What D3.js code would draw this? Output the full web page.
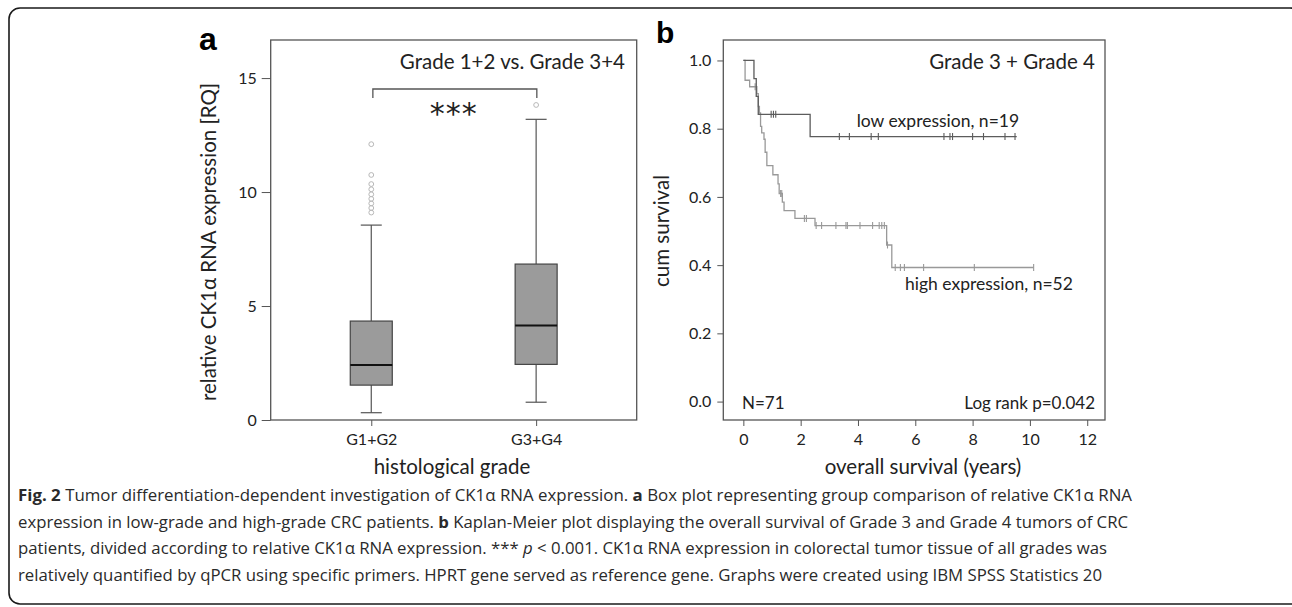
<!DOCTYPE html>
<html>
<head>
<meta charset="utf-8">
<script src="https://d3js.org/d3.v7.min.js"></script>
<style>
  body { margin: 0; background: #fff; }
  svg { display: block; }
</style>
</head>
<body>
<svg width="1292" height="607"></svg>
<script>
// ---- panel a: box plot data ----
const groups = ["G1+G2", "G3+G4"];
const whiskerLow = [0.32, 0.78];
const q1 = [1.53, 2.44];
const median = [2.41, 4.15];
const q3 = [4.34, 6.84];
const whiskerHigh = [8.55, 13.19];
const outliersG12 = [12.1, 10.75, 10.35, 10.12, 9.9, 9.7, 9.5, 9.3, 9.1];
const outliersG34 = [13.82];
const yTicksA = [0, 5, 10, 15];

// ---- panel b: Kaplan-Meier steps ----
const lowTimes = [0, 0.37, 0.45, 0.52, 2.33];
const lowSurv = [1.0, 0.947, 0.895, 0.842, 0.777];
const lowEnd = 9.54;
const lowCensored = [0.97, 1.05, 1.13, 3.35, 3.7, 4.46, 4.71, 7.0, 7.21, 7.3, 8.0, 8.38, 9.13, 9.48];

const highTimes = [0, 0.06, 0.22, 0.47, 0.52, 0.56, 0.6, 0.64, 0.72, 0.76, 0.82, 1.03, 1.21, 1.25, 1.36, 1.42, 1.8, 2.5, 5.0, 5.18];
const highSurv = [1.0, 0.942, 0.923, 0.903, 0.865, 0.846, 0.807, 0.788, 0.769, 0.731, 0.692, 0.665, 0.638, 0.61, 0.585, 0.56, 0.537, 0.516, 0.459, 0.393];
const highEnd = 10.13;
const highCensored = [0.41, 1.3, 1.34, 2.13, 2.2, 2.54, 2.73, 3.23, 3.58, 3.63, 4.07, 4.51, 4.74, 4.83, 4.92, 5.03, 5.3, 5.48, 5.62, 6.29, 8.06, 10.13];

const xTicksB = [0, 2, 4, 6, 8, 10, 12];
const yTicksB = [0, 0.2, 0.4, 0.6, 0.8, 1.0];

const svg = d3.select("svg")
    .attr("font-family", "Lato, 'Open Sans', sans-serif");

// outer rounded frame
svg.append("rect")
    .attr("x", 9).attr("y", 8)
    .attr("width", 1292).attr("height", 596)
    .attr("rx", 11)
    .attr("fill", "none")
    .attr("stroke", "#1a1a1a")
    .attr("stroke-width", 1.6);

// ================= panel a =================
const fa = { left: 270.7, right: 636.7, top: 40, bottom: 420 };
const yA = d3.scaleLinear().domain([0, 16.67]).range([fa.bottom, fa.top]);
const xA = d3.scalePoint().domain(groups).range([fa.left, fa.right]).padding(0.61);

const ga = svg.append("g");

ga.append("g")
    .attr("transform", `translate(${fa.left},0)`)
    .call(d3.axisLeft(yA).tickValues(yTicksA).tickSize(9).tickPadding(5))
    .call(g => g.select(".domain").remove())
    .call(g => g.selectAll("line").attr("stroke", "#555"))
    .call(g => g.selectAll("text").attr("font-size", 16).attr("font-family", "Lato").attr("fill", "#222"));

ga.append("g")
    .attr("transform", `translate(0,${fa.bottom})`)
    .call(d3.axisBottom(xA).tickSize(6).tickPadding(8))
    .call(g => g.select(".domain").remove())
    .call(g => g.selectAll("line").attr("stroke", "#555"))
    .call(g => g.selectAll("text").attr("font-size", 16).attr("font-family", "Lato").attr("fill", "#222"));

const boxW = 42, capW = 21;
groups.forEach((grp, i) => {
    const cx = xA(grp);
    // whiskers
    ga.append("line")
        .attr("x1", cx).attr("x2", cx)
        .attr("y1", yA(whiskerLow[i])).attr("y2", yA(q1[i]))
        .attr("stroke", "#555").attr("stroke-width", 1.2);
    ga.append("line")
        .attr("x1", cx).attr("x2", cx)
        .attr("y1", yA(q3[i])).attr("y2", yA(whiskerHigh[i]))
        .attr("stroke", "#555").attr("stroke-width", 1.2);
    [whiskerLow[i], whiskerHigh[i]].forEach(v => {
        ga.append("line")
            .attr("x1", cx - capW / 2).attr("x2", cx + capW / 2)
            .attr("y1", yA(v)).attr("y2", yA(v))
            .attr("stroke", "#555").attr("stroke-width", 1.2);
    });
    ga.append("rect")
        .attr("x", cx - boxW / 2).attr("width", boxW)
        .attr("y", yA(q3[i])).attr("height", yA(q1[i]) - yA(q3[i]))
        .attr("fill", "#9b9b9b")
        .attr("stroke", "#444").attr("stroke-width", 1.2);
    ga.append("line")
        .attr("x1", cx - boxW / 2).attr("x2", cx + boxW / 2)
        .attr("y1", yA(median[i])).attr("y2", yA(median[i]))
        .attr("stroke", "#111").attr("stroke-width", 2);
});

[[groups[0], outliersG12], [groups[1], outliersG34]].forEach(([grp, vals]) => {
    ga.selectAll(null).data(vals).enter().append("circle")
        .attr("cx", xA(grp)).attr("cy", d => yA(d))
        .attr("r", 2.4)
        .attr("fill", "none")
        .attr("stroke", "#b8b8b8").attr("stroke-width", 1);
});

// significance bracket
const brY = 89;
ga.append("path")
    .attr("d", `M${xA(groups[0]) + 1.6},${brY + 9}V${brY}H${xA(groups[1]) + 0.7}V${brY + 9}`)
    .attr("fill", "none").attr("stroke", "#555").attr("stroke-width", 1.3);
ga.append("text")
    .attr("x", (xA(groups[0]) + xA(groups[1])) / 2).attr("y", 124)
    .attr("text-anchor", "middle").attr("font-size", 30)
    .attr("font-family", "DejaVu Sans").attr("letter-spacing", 1)
    .attr("fill", "#222")
    .text("***");

ga.append("rect")
    .attr("x", fa.left).attr("y", fa.top)
    .attr("width", fa.right - fa.left).attr("height", fa.bottom - fa.top)
    .attr("fill", "none").attr("stroke", "#555").attr("stroke-width", 1.3);

ga.append("text")
    .attr("x", 625).attr("y", 69)
    .attr("text-anchor", "end").attr("font-size", 20.5).attr("fill", "#222")
    .text("Grade 1+2 vs. Grade 3+4");

ga.append("text")
    .attr("x", 199).attr("y", 50)
    .attr("font-family", "Liberation Sans, Arial, sans-serif")
    .attr("font-weight", "bold").attr("font-size", 32)
    .text("a");

ga.append("text")
    .attr("transform", "translate(216,242) rotate(-90)")
    .attr("text-anchor", "middle").attr("font-size", 20.5).attr("fill", "#222")
    .text("relative CK1α RNA expression [RQ]");

ga.append("text")
    .attr("x", 452).attr("y", 474)
    .attr("text-anchor", "middle").attr("font-size", 20.5).attr("fill", "#222")
    .text("histological grade");

// ================= panel b =================
const fb = { left: 723.3, right: 1105, top: 40, bottom: 420 };
const xB = d3.scaleLinear().domain([-0.7, 12.62]).range([fb.left, fb.right]);
const yB = d3.scaleLinear().domain([-0.054, 1.06]).range([fb.bottom, fb.top]);

const gb = svg.append("g");

gb.append("g")
    .attr("transform", `translate(${fb.left},0)`)
    .call(d3.axisLeft(yB).tickValues(yTicksB).tickFormat(d3.format(".1f")).tickSize(6).tickPadding(6))
    .call(g => g.select(".domain").remove())
    .call(g => g.selectAll("line").attr("stroke", "#555"))
    .call(g => g.selectAll("text").attr("font-size", 16).attr("font-family", "Lato").attr("fill", "#222"));

gb.append("g")
    .attr("transform", `translate(0,${fb.bottom})`)
    .call(d3.axisBottom(xB).tickValues(xTicksB).tickSize(6).tickPadding(8))
    .call(g => g.select(".domain").remove())
    .call(g => g.selectAll("line").attr("stroke", "#555"))
    .call(g => g.selectAll("text").attr("font-size", 16).attr("font-family", "Lato").attr("fill", "#222"));

const stepLine = d3.line()
    .x(d => xB(d[0]))
    .y(d => yB(d[1]))
    .curve(d3.curveStepAfter);

function drawCurve(times, surv, end, censored, color) {
    const pts = times.map((t, i) => [t, surv[i]]);
    pts.push([end, surv[surv.length - 1]]);
    gb.append("path")
        .attr("d", stepLine(pts))
        .attr("fill", "none").attr("stroke", color).attr("stroke-width", 1.3);
    const bis = d3.bisector(d => d).right;
    gb.selectAll(null).data(censored).enter().append("line")
        .attr("x1", d => xB(d)).attr("x2", d => xB(d))
        .attr("y1", d => yB(surv[bis(times, d) - 1]) - 3.5)
        .attr("y2", d => yB(surv[bis(times, d) - 1]) + 3.5)
        .attr("stroke", color).attr("stroke-width", 1.1);
}

drawCurve(highTimes, highSurv, highEnd, highCensored, "#999");
drawCurve(lowTimes, lowSurv, lowEnd, lowCensored, "#5c5c5c");

gb.append("rect")
    .attr("x", fb.left).attr("y", fb.top)
    .attr("width", fb.right - fb.left).attr("height", fb.bottom - fb.top)
    .attr("fill", "none").attr("stroke", "#555").attr("stroke-width", 1.3);

gb.append("text")
    .attr("x", 1095).attr("y", 69)
    .attr("text-anchor", "end").attr("font-size", 20.5).attr("fill", "#222")
    .text("Grade 3 + Grade 4");

gb.append("text")
    .attr("x", 856.7).attr("y", 127)
    .attr("font-size", 17.5).attr("fill", "#222")
    .text("low expression, n=19");

gb.append("text")
    .attr("x", 905).attr("y", 290)
    .attr("font-size", 17.5).attr("fill", "#222")
    .text("high expression, n=52");

gb.append("text")
    .attr("x", 742).attr("y", 409)
    .attr("font-size", 17).attr("fill", "#222")
    .text("N=71");

gb.append("text")
    .attr("x", 1095).attr("y", 409)
    .attr("text-anchor", "end").attr("font-size", 17).attr("fill", "#222")
    .text("Log rank p=0.042");

gb.append("text")
    .attr("x", 656).attr("y", 43)
    .attr("font-family", "Liberation Sans, Arial, sans-serif")
    .attr("font-weight", "bold").attr("font-size", 30)
    .text("b");

gb.append("text")
    .attr("transform", "translate(669,231) rotate(-90)")
    .attr("text-anchor", "middle").attr("font-size", 20.5).attr("fill", "#222")
    .text("cum survival");

gb.append("text")
    .attr("x", 923).attr("y", 474)
    .attr("text-anchor", "middle").attr("font-size", 20.5).attr("fill", "#222")
    .text("overall survival (years)");

// ================= caption =================
const captionLines = [
    { y: 501, len: 1114, parts: [["Fig. 2", "b"], [" Tumor differentiation-dependent investigation of CK1α RNA expression. ", ""], ["a", "b"], [" Box plot representing group comparison of relative CK1α RNA", ""]] },
    { y: 527.5, len: 1110, parts: [["expression in low-grade and high-grade CRC patients. ", ""], ["b", "b"], [" Kaplan-Meier plot displaying the overall survival of Grade 3 and Grade 4 tumors of CRC", ""]] },
    { y: 554, len: 1089, parts: [["patients, divided according to relative CK1α RNA expression. *** ", ""], ["p", "i"], [" < 0.001. CK1α RNA expression in colorectal tumor tissue of all grades was", ""]] },
    { y: 580.5, len: 1084, parts: [["relatively quantified by qPCR using specific primers. HPRT gene served as reference gene. Graphs were created using IBM SPSS Statistics 20", ""]] }
];

const cap = svg.append("g");
captionLines.forEach(line => {
    const t = cap.append("text")
        .attr("x", 18).attr("y", line.y)
        .attr("font-family", "Open Sans, sans-serif")
        .attr("font-size", 16.5)
        .attr("fill", "#2a2a2a")
        .attr("textLength", line.len)
        .attr("lengthAdjust", "spacingAndGlyphs")
        .style("white-space", "pre");
    line.parts.forEach(([s, st]) => {
        const ts = t.append("tspan").text(s);
        if (st === "b") ts.attr("font-weight", "bold");
        if (st === "i") ts.attr("font-style", "italic");
    });
});
</script>
</body>
</html>
